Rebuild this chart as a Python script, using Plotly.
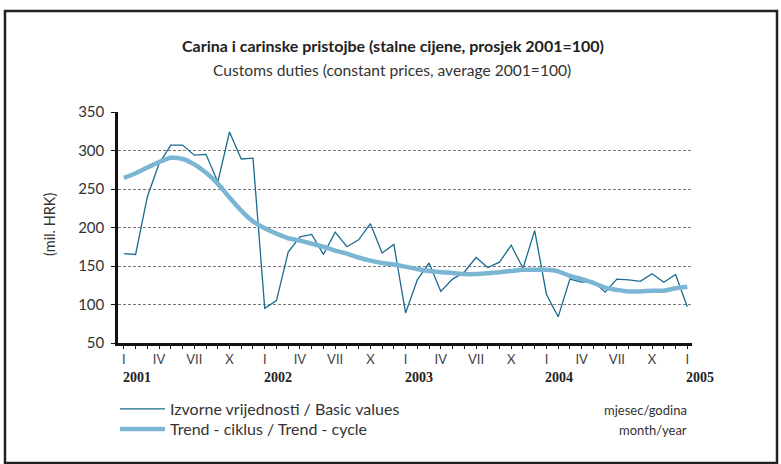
import plotly.graph_objects as go

# ---- data ----
years = ["2001", "2002", "2003", "2004", "2005"]
month_roman = ["I", "IV", "VII", "X"]

basic_values = [
    166, 165, 240, 283, 307, 307, 294, 295, 259, 324, 289, 290,   # 2001
    95, 105, 168, 188, 191, 165, 194, 175, 184, 205, 167, 178,    # 2002
    89, 132, 154, 117, 133, 142, 161, 148, 155, 177, 147, 196,    # 2003
    113, 84, 133, 129, 130, 116, 133, 132, 130, 140, 129, 139,    # 2004
    97,                                                           # 2005
]
trend_cycle = [
    264.5, 270.5, 278, 285, 290.5, 289, 282, 271, 257, 239, 222, 208,   # 2001
    199, 192, 186, 183, 179, 175, 170, 166, 161, 157, 154, 152,         # 2002
    149, 146, 143.5, 142, 141, 139.5, 139.5, 140.5, 142, 143.5, 145, 145,  # 2003
    145, 143, 137, 133, 128, 122, 119, 117, 117, 118, 118, 121,         # 2004
    123,                                                                # 2005
]

x = list(range(len(basic_values)))
tickvals = list(range(0, len(basic_values), 3))
ticktext = [month_roman[(v // 3) % 4] for v in tickvals]
year_pos = list(range(0, len(basic_values), 12))

FONT = "Lato, 'Open Sans', sans-serif"
TXT = "#333333"

fig = go.Figure()
fig.add_trace(go.Scatter(
    x=x, y=basic_values, mode="lines",
    name="Izvorne vrijednosti / Basic values",
    line=dict(color="#1b6a90", width=1.3),
    legend="legend",
))
fig.add_trace(go.Scatter(
    x=x, y=trend_cycle, mode="lines",
    name="Trend - ciklus / Trend - cycle",
    line=dict(color="#7ab6d3", width=4.5, shape="spline", smoothing=0.6),
    legend="legend2",
))

L, R, T, B = 118, 89, 112, 121
W, H = 781, 464
pw = W - L - R
ph = H - T - B

def px_x(p):
    return (p - L) / pw

def px_y(p):
    return (H - B - p) / ph

annotations = [
    dict(text="<b>Carina i carinske pristojbe (stalne cijene, prosjek 2001=100)</b>",
         xref="paper", yref="paper", x=px_x(393), y=px_y(46), showarrow=False,
         xanchor="center", yanchor="middle", font=dict(size=16, color="#222", family=FONT)),
    dict(text="Customs duties (constant prices, average 2001=100)",
         xref="paper", yref="paper", x=px_x(392), y=px_y(70), showarrow=False,
         xanchor="center", yanchor="middle", font=dict(size=15.6, color=TXT, family=FONT)),
    dict(text="(mil. HRK)", textangle=-90,
         xref="paper", yref="paper", x=px_x(49), y=px_y(225), showarrow=False,
         xanchor="center", yanchor="middle", font=dict(size=14.5, color=TXT, family=FONT)),
    dict(text="mjesec/godina",
         xref="paper", yref="paper", x=px_x(689), y=px_y(410), showarrow=False,
         xanchor="right", yanchor="middle", font=dict(size=13, color=TXT, family=FONT)),
    dict(text="month/year",
         xref="paper", yref="paper", x=px_x(689), y=px_y(430), showarrow=False,
         xanchor="right", yanchor="middle", font=dict(size=13, color=TXT, family=FONT)),
]
for yr, xp in zip(years, year_pos):
    annotations.append(dict(
        text="<b>" + yr + "</b>", xref="x", yref="paper", x=xp, y=px_y(377),
        xanchor="left", yanchor="middle", xshift=-3, showarrow=False,
        font=dict(size=14, color="#222", family="'Liberation Serif', serif"),
    ))

legend_common = dict(
    xanchor="left", yanchor="middle", itemwidth=45,
    font=dict(size=16, color=TXT, family=FONT),
    bgcolor="rgba(0,0,0,0)",
)

fig.update_layout(
    width=W, height=H, autosize=False,
    margin=dict(l=L, r=R, t=T, b=B),
    paper_bgcolor="white", plot_bgcolor="white",
    font=dict(family=FONT, color=TXT),
    showlegend=True,
    legend=dict(x=px_x(115), y=px_y(409), **legend_common),
    legend2=dict(x=px_x(115), y=px_y(429), **legend_common),
    annotations=annotations,
    shapes=[dict(type="rect", xref="paper", yref="paper",
                 x0=px_x(5), x1=px_x(777), y0=px_y(463), y1=px_y(11),
                 line=dict(color="#222", width=2.5), layer="below")],
)
fig.update_xaxes(
    range=[-0.5, 48.4], showgrid=False, zeroline=False,
    showline=True, linecolor="#111", linewidth=2.5,
    tickmode="array", tickvals=tickvals, ticktext=ticktext,
    ticks="outside", ticklen=3, tickwidth=1.3, tickcolor="#111",
    tickfont=dict(size=13, color="#444", family=FONT),
    minor=dict(dtick=1, tick0=0, ticks="outside", ticklen=3, tickwidth=1.3, tickcolor="#111"),
)
fig.update_yaxes(
    range=[50, 350], tickvals=[50, 100, 150, 200, 250, 300, 350],
    showgrid=True, gridcolor="#777", gridwidth=1.3, griddash="3px,2px",
    zeroline=False, showline=True, linecolor="#111", linewidth=2.5,
    ticks="outside", ticklen=4, tickwidth=1.3, tickcolor="#111",
    tickfont=dict(size=15, color="#333", family=FONT),
    ticklabelstandoff=4,
)

fig.write_html("out.html", config={"displayModeBar": False},
               post_script="document.body.style.margin='0';")
